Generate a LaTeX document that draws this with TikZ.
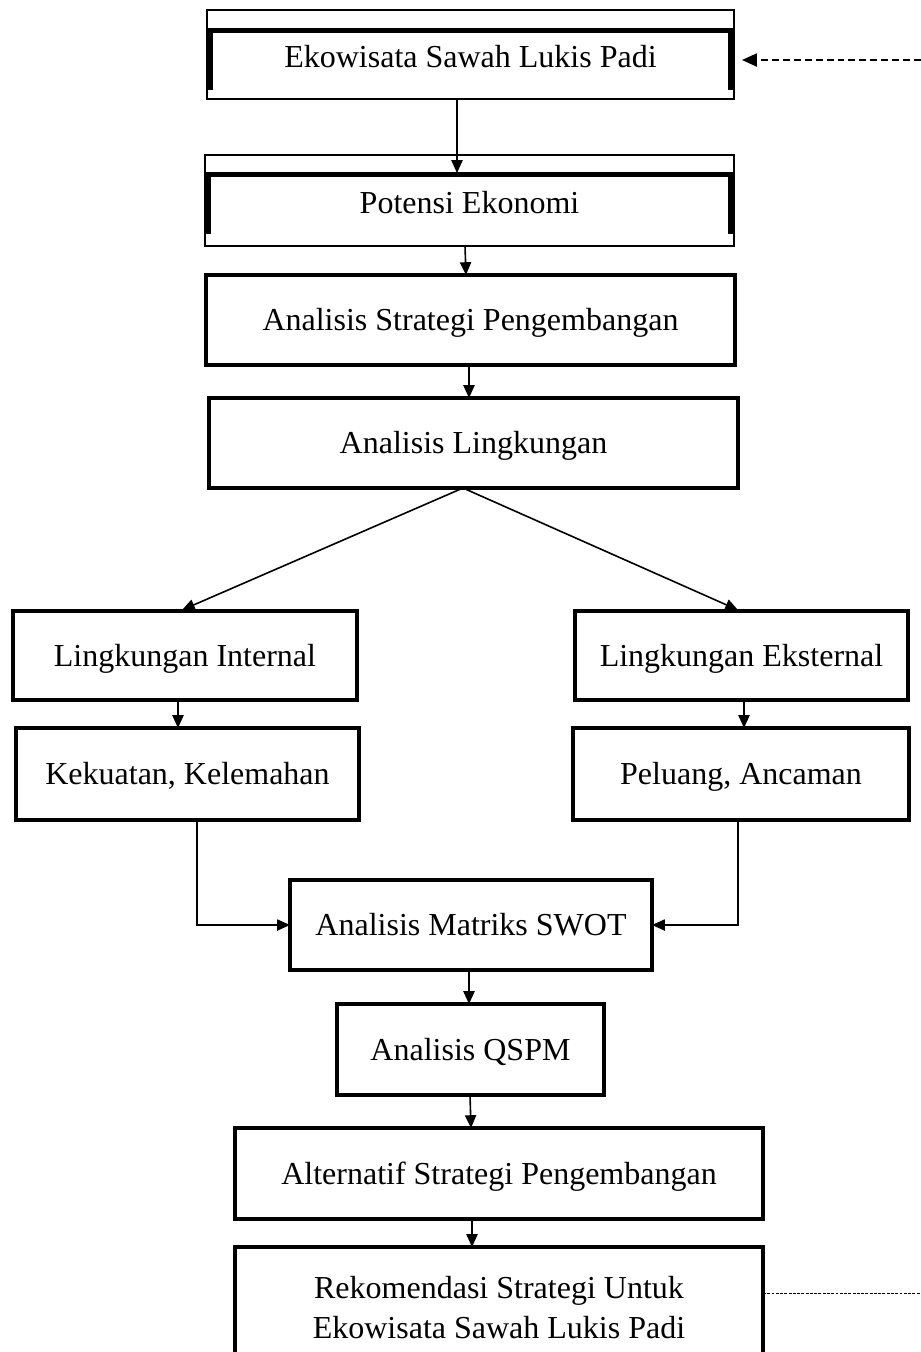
\documentclass[tikz,border=0pt]{standalone}
\usepackage{fontspec}
\setmainfont{Liberation Serif}
\usetikzlibrary{calc,arrows.meta}
\begin{document}
\begin{tikzpicture}[x=0.375pt,y=-0.375pt,
  sz/.style 2 args={minimum width=#1*0.375pt, minimum height=#2*0.375pt},
  base/.style={inner sep=0pt, outer sep=0pt, align=center,
    font=\fontsize{12pt}{15pt}\selectfont},
  one/.style={text height=0.87em, text depth=0.05em},
  obox/.style={base, draw, line width=0.55pt},
  bbox/.style={base, draw, line width=1.6pt},
  txt/.style={base},
  thickin/.style={line width=1.9pt},
  arr/.style={line width=0.6pt, -{Triangle[length=4.8pt,width=4.2pt]}},
  arr2/.style={line width=0.45pt, -{Triangle[length=4.8pt,width=4.2pt]}},
  dtop/.style={line width=0.75pt, dash pattern=on 2.6pt off 1.5pt, -{Triangle[length=5.6pt,width=4.9pt]}},
  dbot/.style={line width=0.35pt, dash pattern=on 1.1pt off 0.5pt}]
\useasboundingbox (0,0) rectangle (921,1352);

% top double-framed boxes
\node[obox, sz={527}{89}] (eko) at (470.5,54.5) {};
\node[txt] (ekot) at (470.5,57) {Ekowisata Sawah Lukis Padi};
\draw[thickin] ($(eko.south west)+(3.5,-9)$) |- ($(eko.north east)+(-3.5,20.5)$) -- ($(eko.south east)+(-3.5,-9)$);

\node[obox, sz={529}{91}] (pot) at (469.5,200.5) {};
\node[txt] (pott) at (469.5,203) {Potensi Ekonomi};
\draw[thickin] ($(pot.south west)+(3.5,-12)$) |- ($(pot.north east)+(-3.5,19.5)$) -- ($(pot.south east)+(-3.5,-12)$);

% main boxes
\node[bbox, one, sz={529}{90}] (strat) at (470.5,320) {Analisis Strategi Pengembangan};
\node[bbox, one, sz={529}{90}] (ling) at (473.5,443) {Analisis Lingkungan};
\node[bbox, one, sz={344}{89}] (lint) at (185,655.5) {Lingkungan Internal};
\node[bbox, one, sz={333}{89}] (lext) at (741.5,655.5) {Lingkungan Eksternal};
\node[bbox, one, sz={343}{92}] (kek) at (187.5,774) {Kekuatan, Kelemahan};
\node[bbox, one, sz={336}{92}] (pel) at (741,774) {Peluang, Ancaman};
\node[bbox, one, sz={362}{90}] (swot) at (471,925) {Analisis Matriks SWOT};
\node[bbox, one, sz={267}{91}] (qspm) at (470.5,1049.5) {Analisis QSPM};
\node[bbox, one, sz={528}{91}] (alt) at (499,1173.5) {Alternatif Strategi Pengembangan};
\node[bbox, sz={528}{122}] (rek) at (499,1308) {Rekomendasi Strategi Untuk\\Ekowisata Sawah Lukis Padi};

% connectors
\draw[arr] ($(eko.south)+(-13.5,0)$) -- ($(pot.north)+(-12.5,18)$);
\draw[arr] ($(pot.south)+(-4.5,0)$) -- ($(strat.north)+(-4.5,0)$);
\draw[arr] ($(strat.south)+(-1.5,0)$) -- ($(ling.north)+(-4.5,0)$);
\draw[arr] ($(ling.south)+(-10.5,0)$) -- ($(lint.north)+(-3,-1)$);
\draw[arr] ($(ling.south)+(-10.5,0)$) -- ($(lext.north)+(-3.5,-1)$);
\draw[arr] ($(lint.south)+(-7,0)$) -- ($(kek.north)+(-9.5,0)$);
\draw[arr] ($(lext.south)+(2.5,0)$) -- ($(pel.north)+(3,0)$);
\draw[arr2] ($(kek.south)+(9.5,0)$) |- (swot.west);
\draw[arr2] ($(pel.south)+(-3,0)$) |- (swot.east);
\draw[arr] ($(swot.south)+(-2,0)$) -- ($(qspm.north)+(-1.5,0)$);
\draw[arr] ($(qspm.south)+(-0.5,0)$) -- ($(alt.north)+(-28,0)$);
\draw[arr] ($(alt.south)+(-27,0)$) -- ($(rek.north)+(-27,0)$);

% dashed feedback ends
\coordinate (rt) at (921,60);
\coordinate (rb) at (921,1293);
\draw[dtop] (rt) -- ($(eko.east)+(8,5.5)$);
\draw[dbot] (rek.east |- rb) -- (rb);
\end{tikzpicture}
\end{document}
